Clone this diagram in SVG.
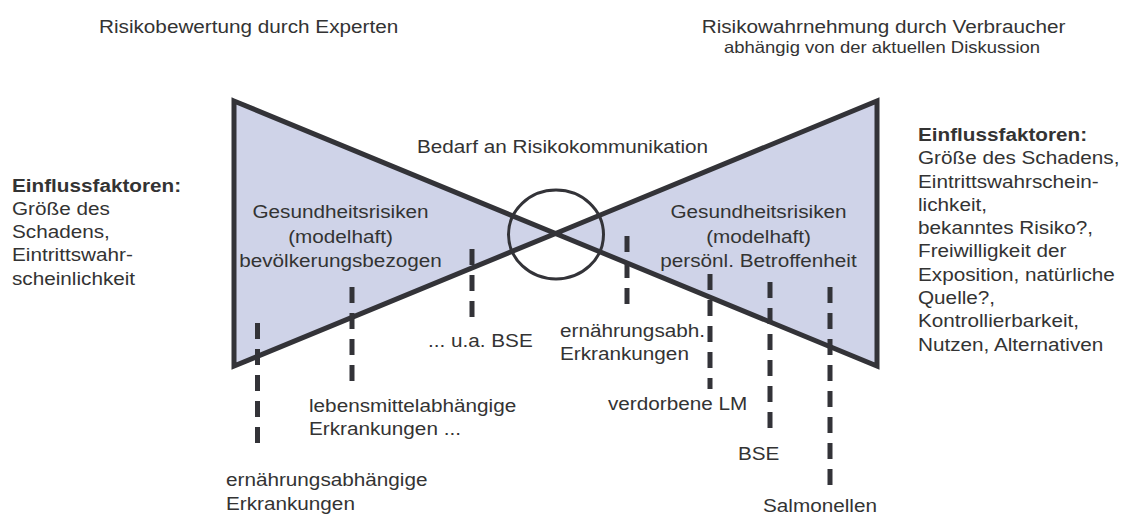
<svg xmlns="http://www.w3.org/2000/svg" width="1128" height="515" viewBox="0 0 1128 515">
<style>
text{font-family:"Liberation Sans",Arial,Helvetica,sans-serif;font-size:18.5px;fill:#333333}
.b{font-weight:bold}
.s{font-size:16.5px}
.m{text-anchor:middle}
.tri{fill:#cfd3e8;stroke:#333338;stroke-width:5;stroke-linejoin:miter}
.dash{stroke:#333338;stroke-width:5;stroke-dasharray:16 10;fill:none}
</style>
<rect width="1128" height="515" fill="#ffffff"/>
<g id="bowtie">
<polygon class="tri" points="234,101 555.5,233.5 234,366"/>
<polygon class="tri" points="555.5,233.5 877,101 877,366"/>
</g>
<g id="circle">
<ellipse cx="556" cy="234.5" rx="47.5" ry="44.5" fill="none" stroke="#333338" stroke-width="3"/>
</g>
<g id="connectors">
<line class="dash" x1="257.5" y1="323" x2="257.5" y2="453"/>
<line class="dash" x1="352" y1="287" x2="352" y2="387"/>
<line class="dash" x1="472" y1="249" x2="472" y2="321"/>
<line class="dash" x1="627" y1="236" x2="627" y2="308"/>
<line class="dash" x1="710" y1="274" x2="710" y2="389"/>
<line class="dash" x1="770" y1="282" x2="770" y2="433"/>
<line class="dash" x1="830" y1="287" x2="830" y2="488"/>
</g>
<g id="title-left"><text transform="translate(99 33) scale(1.12 1)">Risikobewertung durch Experten</text></g>
<g id="title-right">
<text class="m" transform="translate(883.5 33) scale(1.12 1)">Risikowahrnehmung durch Verbraucher</text>
<text class="m s" transform="translate(882 53) scale(1.12 1)">abhängig von der aktuellen Diskussion</text>
</g>
<g id="bedarf"><text transform="translate(417 153) scale(1.12 1)">Bedarf an Risikokommunikation</text></g>
<g id="left-triangle-label"><text class="m" transform="translate(340.5 218) scale(1.12 1)"><tspan x="0" y="0">Gesundheitsrisiken</tspan><tspan x="0" y="25">(modelhaft)</tspan><tspan x="0" y="49">bevölkerungsbezogen</tspan></text></g>
<g id="right-triangle-label"><text class="m" transform="translate(758.5 218) scale(1.12 1)"><tspan x="0" y="0">Gesundheitsrisiken</tspan><tspan x="0" y="25">(modelhaft)</tspan><tspan x="0" y="49">persönl. Betroffenheit</tspan></text></g>
<g id="left-factors"><text transform="translate(12 191.5) scale(1.12 1)"><tspan x="0" y="0" class="b">Einflussfaktoren:</tspan><tspan x="0" y="23.3">Größe des</tspan><tspan x="0" y="46.6">Schadens,</tspan><tspan x="0" y="69.9">Eintrittswahr-</tspan><tspan x="0" y="93.2">scheinlichkeit</tspan></text></g>
<g id="right-factors"><text transform="translate(918 141) scale(1.12 1)"><tspan x="0" y="0" class="b">Einflussfaktoren:</tspan><tspan x="0" y="23.3">Größe des Schadens,</tspan><tspan x="0" y="46.6">Eintrittswahrschein-</tspan><tspan x="0" y="69.9">lichkeit,</tspan><tspan x="0" y="93.2">bekanntes Risiko?,</tspan><tspan x="0" y="116.5">Freiwilligkeit der</tspan><tspan x="0" y="139.8">Exposition, natürliche</tspan><tspan x="0" y="163.1">Quelle?,</tspan><tspan x="0" y="186.4">Kontrollierbarkeit,</tspan><tspan x="0" y="209.7">Nutzen, Alternativen</tspan></text></g>
<g id="label-ua-bse"><text transform="translate(428 347) scale(1.12 1)">... u.a. BSE</text></g>
<g id="label-ernaehrungsabh"><text transform="translate(560 337) scale(1.12 1)"><tspan x="0" y="0">ernährungsabh.</tspan><tspan x="0" y="23">Erkrankungen</tspan></text></g>
<g id="label-lebensmittel"><text transform="translate(309 412) scale(1.12 1)"><tspan x="0" y="0">lebensmittelabhängige</tspan><tspan x="0" y="23">Erkrankungen ...</tspan></text></g>
<g id="label-ernaehrungsabhaengige"><text transform="translate(226 486) scale(1.12 1)"><tspan x="0" y="0">ernährungsabhängige</tspan><tspan x="0" y="24">Erkrankungen</tspan></text></g>
<g id="label-verdorbene"><text transform="translate(608 410) scale(1.12 1)">verdorbene LM</text></g>
<g id="label-bse"><text transform="translate(738 460) scale(1.12 1)">BSE</text></g>
<g id="label-salmonellen"><text transform="translate(763 512) scale(1.12 1)">Salmonellen</text></g>
</svg>
